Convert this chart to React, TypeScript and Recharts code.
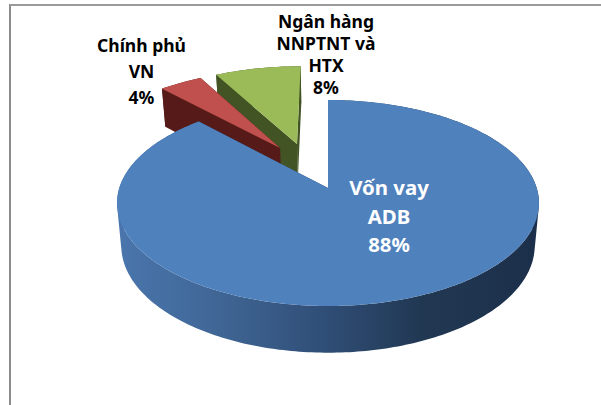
/**
 * 3D exploded pie: Vốn vay ADB / Chính phủ VN / Ngân hàng NNPTNT và HTX.
 * Recharts gives the slice angles, the custom shape projects them in perspective.
 */

import { Pie, PieChart } from "recharts";

const sliceNames = ["Ngân hàng NNPTNT và HTX", "Chính phủ VN", "Vốn vay ADB"];
const sliceValues = [8, 4, 88];
const sliceLabels = [
  ["Ngân hàng", "NNPTNT và", "HTX", "8%"],
  ["Chính phủ", "VN", "4%"],
  ["Vốn vay", "ADB", "88%"],
];

const chartData = sliceNames.map((name, i) => ({ name, value: sliceValues[i] }));

const WIDTH = 601;
const HEIGHT = 405;
const CX = 328;
const CY = 188;

// perspective of the disc
const RX = 208.7;
const RY = 100.8;
const K = 0.1456;
const BOTTOM_CY = 230;
const BOTTOM_SX = 0.98;
const BOTTOM_SY = 1.04;

const sliceStyles = [
  { top: "#9bbb59", wall: "#425324", side: "#425324", ou: -0.1586, ov: 0.466 },
  { top: "#c0504d", wall: "#561a18", side: "#561a18", ou: -0.244, ov: 0.421 },
  { top: "#4f81bd", wall: "url(#blueWall)", side: "#2c4770", ou: 0, ov: 0 },
];

const labelStyles = [
  { x: 326, y: 27.5, step: 22, size: 17.5, color: "#000000" },
  { x: 141.5, y: 51.5, step: 26.3, size: 17.5, color: "#000000" },
  { x: 389, y: 195, step: 28.5, size: 20.4, color: "#ffffff" },
];

function projectTop(u: number, v: number): [number, number] {
  const w = 1 + K * v;
  return [CX + (RX * u) / w, CY - (RY * v) / w];
}

function projectBottom(u: number, v: number): [number, number] {
  const w = 1 + K * v;
  return [CX + (BOTTOM_SX * RX * u) / w, BOTTOM_CY - (BOTTOM_SY * RY * v) / w];
}

function toPath(points: [number, number][]): string {
  return (
    points.map((p, i) => `${i === 0 ? "M" : "L"}${p[0].toFixed(2)},${p[1].toFixed(2)}`).join(" ") +
    " Z"
  );
}

// same winding for every quad, otherwise overlapping ones cancel under nonzero fill
function orient(points: [number, number][]): [number, number][] {
  let area = 0;
  points.forEach((p, i) => {
    const q = points[(i + 1) % points.length];
    area += p[0] * q[1] - q[0] * p[1];
  });
  return area < 0 ? [...points].reverse() : points;
}

function Slice3D(props: any) {
  const { startAngle, endAngle, index } = props;
  const style = sliceStyles[index];
  const rim: [number, number][] = [];
  const steps = Math.max(4, Math.ceil(Math.abs(endAngle - startAngle)));
  for (let i = 0; i <= steps; i++) {
    const a = ((startAngle + ((endAngle - startAngle) * i) / steps) * Math.PI) / 180;
    rim.push([style.ou + Math.cos(a), style.ov + Math.sin(a)]);
  }
  const topRim = rim.map((p) => projectTop(p[0], p[1]));
  const bottomRim = rim.map((p) => projectBottom(p[0], p[1]));
  const apexTop = projectTop(style.ou, style.ov);
  const apexBottom = projectBottom(style.ou, style.ov);
  const last = rim.length - 1;

  // one quad per step, so the silhouette keeps the tangent edges
  const quads = rim
    .slice(0, last)
    .map((_, i) => toPath(orient([topRim[i], topRim[i + 1], bottomRim[i + 1], bottomRim[i]])))
    .join(" ");

  return (
    <g>
      <defs>
        <linearGradient id="blueWall" gradientUnits="userSpaceOnUse" x1="118" y1="0" x2="539" y2="0">
          <stop offset="0%" stopColor="#4a76ad" />
          <stop offset="25%" stopColor="#3f6594" />
          <stop offset="50%" stopColor="#2f4d75" />
          <stop offset="72%" stopColor="#213853" />
          <stop offset="100%" stopColor="#1c2f4a" />
        </linearGradient>
      </defs>
      <path d={toPath([apexTop, topRim[0], bottomRim[0], apexBottom])} fill={style.side} />
      <path d={toPath([apexTop, topRim[last], bottomRim[last], apexBottom])} fill={style.side} />
      <path d={quads} fill={style.wall} />
      <path d={toPath([apexTop, ...topRim])} fill={style.top} />
    </g>
  );
}

function SliceLabel(props: any) {
  const style = labelStyles[props.index];
  return (
    <text
      textAnchor="middle"
      fontFamily="'Noto Sans', sans-serif"
      fontWeight={700}
      fontSize={style.size}
      fill={style.color}
    >
      {sliceLabels[props.index].map((line, i) => (
        <tspan key={line} x={style.x} y={style.y + i * style.step}>
          {line}
        </tspan>
      ))}
    </text>
  );
}

export default function App() {
  return (
    <div style={{ position: "fixed", left: 0, top: 0, width: WIDTH, height: HEIGHT, background: "#fff", overflow: "hidden" }}>
      <div
        style={{
          position: "absolute",
          left: 9,
          top: 4,
          right: 0,
          bottom: 0,
          borderTop: "2px solid #9a9a9a",
          borderLeft: "2px solid #8c8c8c",
        }}
      />
      <div style={{ position: "absolute", left: 0, top: 0 }}>
        <PieChart width={WIDTH} height={HEIGHT} margin={{ top: 0, right: 0, bottom: 0, left: 0 }}>
          <Pie
            data={chartData}
            dataKey="value"
            nameKey="name"
            cx={CX}
            cy={CY}
            outerRadius={100}
            startAngle={90}
            endAngle={450}
            paddingAngle={0}
            stroke="none"
            shape={Slice3D}
            label={SliceLabel}
            labelLine={false}
            isAnimationActive={false}
          />
        </PieChart>
      </div>
    </div>
  );
}
